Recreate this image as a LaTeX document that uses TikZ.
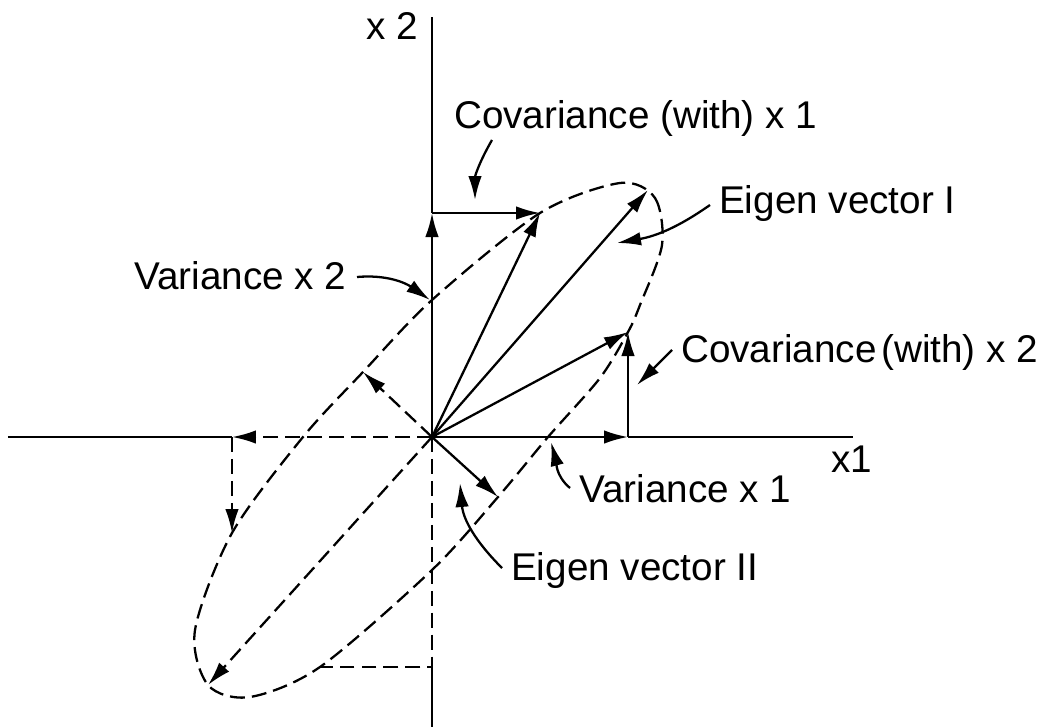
\documentclass[tikz,border=0pt]{standalone}
\usepackage{fontspec}
\setmainfont{Liberation Sans}
\usetikzlibrary{arrows.meta}

\begin{document}
\begin{tikzpicture}[x=1cm,y=1cm,line width=1.3pt,
    tip/.style={-{Latex[length=4.8mm,width=2.7mm]}},
    dashline/.style={dash pattern=on 8.5pt off 4pt},
    lbl/.style={anchor=base west,inner sep=0pt,font=\fontsize{22}{26}\selectfont}]
    \useasboundingbox (-8.64,-5.80) rectangle (12.18,8.74);
    % axes ends and construction points
    \coordinate (O) at (0,0);
    \coordinate (xStart) at (-8.48,0);
    \coordinate (xEnd) at (8.42,0);
    \coordinate (yTop) at (0,8.40);
    \coordinate (yBot) at (0,-5.80);
    \coordinate (px1) at (3.92,0);
    \coordinate (px2) at (0,4.48);
    \coordinate (nx1) at (-4.00,0);
    \coordinate (nx1e) at (-4.00,-1.92);
    \coordinate (ny) at (0,-4.60);
    \coordinate (nye) at (-2.24,-4.60);
    \coordinate (covA) at (2.16,4.48);
    \coordinate (covB) at (3.92,2.10);
    \coordinate (eigA) at (4.32,4.94);
    \coordinate (eigB) at (1.32,-1.20);
    \coordinate (eigAn) at (-4.48,-4.96);
    \coordinate (eigBn) at (-1.38,1.30);
    \coordinate (var1) at (2.38,-0.10);
    \coordinate (var2) at (-0.04,2.74);
    % axes
    \draw (xStart) -- (nx1);
    \draw (px1) -- (xEnd);
    \draw (px2) -- (yTop);
    \draw (ny) -- (yBot);
    \draw[dashline] (O) -- (ny) -- (nye);
    % ellipse
    \draw[dashline] plot[smooth cycle] coordinates
      {(3.76,5.08)(4.46,4.78)(4.60,3.84)(4.16,2.64)(3.92,2.10)(3.36,1.18)(2.32,0)
       (1.32,-1.20)(0,-2.66)(-2.24,-4.60)(-3.64,-5.20)(-4.48,-4.96)(-4.74,-3.86)
       (-4.00,-1.92)(-2.58,0)(-1.38,1.30)(0,2.74)(2.16,4.48)};
    % vectors
    \draw[tip] (O) -- (px1);
    \draw[tip] (O) -- (px2);
    \draw[tip] (px2) -- (covA);
    \draw[tip] (px1) -- (covB);
    \draw[tip] (O) -- (covA);
    \draw[tip] (O) -- (eigA);
    \draw[tip] (O) -- (covB);
    \draw[tip] (O) -- (eigB);
    \draw[tip,dashline] (O) -- (nx1);
    \draw[tip,dashline] (nx1) -- (nx1e);
    \draw[tip,dashline] (O) -- (eigBn);
    \draw[tip,dashline] (O) -- (eigAn);
    % labels
    \node[lbl] (lx2) at (-1.34,7.94) {x 2};
    \node[lbl] (lx1) at (7.96,-0.70) {x1};
    \node[lbl] (lcovA) at (0.42,6.18) {Covariance (with) x 1};
    \node[lbl] (leigA) at (5.72,4.48) {Eigen vector I};
    \node[lbl] (lvar2) at (-5.98,2.96) {Variance x 2};
    \node[lbl] (lcovB) at (4.96,1.50) {Covariance\hspace{0.12em}(with) x 2};
    \node[lbl] (lvar1) at (2.92,-1.30) {Variance x 1};
    \node[lbl] (leigB) at (1.56,-2.86) {Eigen vector II};
    % pointers from labels
    \coordinate (sCovA) at (1.20,5.94);
    \coordinate (tCovA) at (0.86,4.74);
    \coordinate (sEigA) at (5.56,4.64);
    \coordinate (tEigA) at (3.70,3.88);
    \coordinate (sVar2) at (-1.50,3.20);
    \coordinate (sCovB) at (4.80,1.74);
    \coordinate (tCovB) at (4.10,1.04);
    \coordinate (sVar1) at (2.76,-1.02);
    \coordinate (sEigB) at (1.40,-2.62);
    \coordinate (tEigB) at (0.56,-0.92);
    \draw[tip] (sCovA) to[out=240,in=90] (tCovA);
    \draw[tip] (sEigA) to[out=215,in=10] (tEigA);
    \draw[tip] (sVar2) to[out=5,in=145] (var2);
    \draw[tip] (sCovB) -- (tCovB);
    \draw[tip] (sVar1) to[out=140,in=-75] (var1);
    \draw[tip] (sEigB) to[out=135,in=-85] (tEigB);
\end{tikzpicture}
\end{document}
